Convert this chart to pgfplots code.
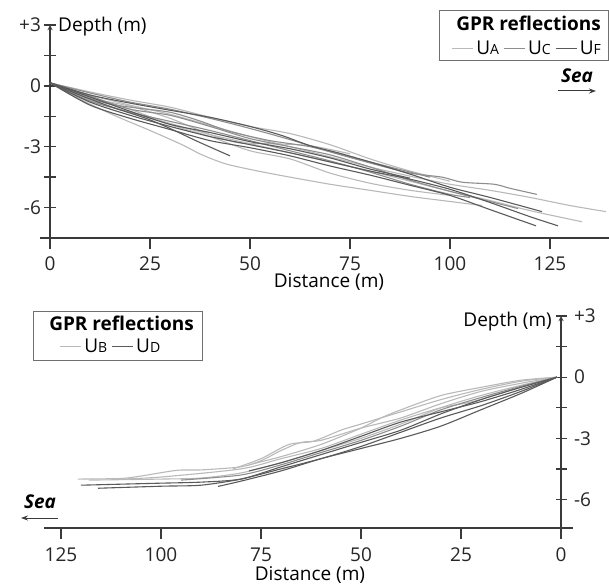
\documentclass[border=0pt]{standalone}
\usepackage{pgfplots}
\pgfplotsset{compat=1.18}
\usepackage{fontspec}
\setmainfont{Open Sans}
\usetikzlibrary{arrows.meta}

\definecolor{ua}{HTML}{B9B9B9}
\definecolor{uc}{HTML}{8E8E8E}
\definecolor{uf}{HTML}{5A5A5A}
\definecolor{axc}{HTML}{3A3A3A}
\definecolor{legc}{HTML}{707070}

\newcommand\samp[1]{\textcolor{#1}{\rule[0.3em]{1.1em}{0.9pt}}\,}
\newcommand\sub[1]{{\fontsize{14}{14}\selectfont #1}}
\newcommand\lab{\fontsize{19}{19}\selectfont}

\pgfplotsset{
  panel/.style={
    scale only axis, clip=false,
    axis x line=bottom,
    axis line style={-, line width=1.3pt, draw=axc},
    tick style={line width=1.3pt, draw=axc},
    major tick length=11pt, tick align=outside,
    ticklabel style={font=\lab, text=black!85},
    /pgf/number format/assume math mode=true,
    xtick={0,25,...,125},
    ytick={-6,-4.5,-3,-1.5,0,1.5,3},
    yticklabels={-6,,-3,,0,,+3},
  },
  lnA/.style={color=ua, line width=1.1pt, smooth, tension=0.45, mark=none},
  lnC/.style={color=uc, line width=1.1pt, smooth, tension=0.45, mark=none},
  lnF/.style={color=uf, line width=1.1pt, smooth, tension=0.45, mark=none},
}

\begin{document}
\begin{tikzpicture}
\path[use as bounding box] (0,0) rectangle (609pt,586pt);

% ---- upper panel: U_A, U_C, U_F
\begin{axis}[panel, at={(50pt,348pt)}, anchor=south west,
    width=559pt, height=213pt,
    axis y line=left,
    xticklabel style={yshift=-4pt},
    xmin=0, xmax=139.75, ymin=-7.5, ymax=3]
  \addplot[lnA] coordinates {(0,0.15)(8,-0.7)(16,-1.45)(25,-2.2)(33,-2.9)(38,-3.4)(44,-3.85)(52,-4.2)(60,-4.5)(70,-4.85)(80,-5.15)(90,-5.45)(100,-5.7)(108,-5.9)};
  \addplot[lnA] coordinates {(0,0.15)(10,-0.45)(20,-0.95)(30,-1.4)(40,-1.95)(50,-2.5)(60,-3.0)(70,-3.5)(80,-4.0)(90,-4.45)(100,-4.85)(110,-5.15)(120,-5.5)(130,-5.9)(139,-6.2)};
  \addplot[lnA] coordinates {(0,0.15)(10,-0.7)(20,-1.3)(30,-1.85)(40,-2.4)(50,-2.85)(60,-3.3)(70,-3.75)(80,-4.2)(90,-4.7)(100,-5.2)(110,-5.65)(120,-6.15)(133,-6.7)};
  \addplot[lnA] coordinates {(0,0.15)(10,-0.3)(20,-0.7)(30,-1.05)(40,-1.55)(50,-2.0)(60,-2.35)(70,-2.9)(80,-3.6)(90,-4.2)(100,-4.7)};
  \addplot[lnA] coordinates {(0,0.15)(10,-0.6)(20,-1.0)(30,-1.6)(40,-2.4)(47,-2.8)(55,-2.85)(65,-2.95)(75,-3.35)};
  \addplot[lnA] coordinates {(0,0.15)(10,-0.55)(20,-1.15)(30,-1.9)(40,-2.5)(50,-3.2)(60,-3.6)(70,-4.3)(80,-4.8)(90,-5.15)(100,-5.4)};
  \addplot[lnC] coordinates {(0,0.15)(10,-0.35)(20,-0.8)(30,-1.15)(40,-1.6)(50,-2.1)(60,-2.65)(70,-3.25)(80,-3.8)(90,-4.3)(98,-4.5)(103,-4.75)(111,-4.85)(115,-5.05)(121.7,-5.35)};
  \addplot[lnC] coordinates {(0,0.15)(10,-0.5)(20,-1.15)(30,-1.45)(40,-2.0)(50,-2.6)(60,-3.0)(70,-3.4)(80,-4.0)(90,-4.65)(100,-5.2)(110,-5.7)(117,-6.05)};
  \addplot[lnC] coordinates {(0,0.15)(8,-0.5)(15,-0.9)(22,-1.1)(30,-1.3)(37,-1.7)(45,-2.25)(55,-2.7)(65,-3.0)(75,-3.5)(85,-4.0)(95,-4.5)};
  \addplot[lnC] coordinates {(0,0.15)(10,-0.75)(20,-1.3)(30,-1.75)(40,-2.2)(50,-2.7)(60,-3.2)(70,-3.7)(80,-4.25)(90,-4.85)(100,-5.35)(105,-5.5)};
  \addplot[lnF] coordinates {(0,0.15)(10,-0.45)(20,-0.85)(27,-1.1)(40,-1.55)(50,-2.0)(58,-2.45)(65,-2.95)(72,-3.3)(80,-3.75)(90,-4.35)(100,-5.0)(110,-5.5)(123,-6.2)};
  \addplot[lnF] coordinates {(0,0.15)(10,-0.8)(20,-1.45)(30,-2.0)(40,-2.5)(50,-2.9)(60,-3.3)(70,-3.75)(80,-4.2)(90,-4.6)(100,-5.1)(110,-5.75)(120,-6.45)(127,-6.9)};
  \addplot[lnF] coordinates {(0,0.15)(10,-0.95)(20,-1.6)(30,-2.15)(40,-2.7)(50,-3.05)(60,-3.45)(70,-3.95)(80,-4.4)(90,-4.9)(100,-5.4)(110,-6.1)(121.5,-6.9)};
  \addplot[lnF] coordinates {(0,0.15)(10,-0.65)(17,-1.15)(24,-1.6)(30,-2.1)(37,-2.75)(45,-3.45)};
  \addplot[lnF] coordinates {(0,0.15)(10,-0.55)(20,-1.25)(30,-1.9)(40,-2.3)(50,-2.75)(60,-3.1)(70,-3.55)(80,-4.1)(90,-4.55)};
  \draw[line width=1.3pt, draw=axc] (axis cs:-2.5,-7.5) -- (axis cs:0,-7.5);
\end{axis}

% ---- lower panel: U_B, U_D (distance runs right to left)
\begin{axis}[panel, at={(44pt,58pt)}, anchor=south west,
    width=517pt, height=212pt,
    axis y line=right, x dir=reverse,
    xticklabel style={yshift=-5pt},
    yticklabel style={xshift=4pt},
    xmin=0, xmax=129.25, ymin=-7.4, ymax=3]
  \addplot[lnA] coordinates {(1,0)(10,-0.3)(20,-0.7)(30,-1.3)(40,-2.0)(50,-2.5)(60,-3.1)(65,-3.2)(70,-3.6)(75,-4.1)(80,-4.4)(90,-4.55)(96,-4.57)(105,-4.85)(110,-4.97)(120.75,-5.0)};
  \addplot[lnA] coordinates {(1,0)(10,-0.4)(20,-0.9)(30,-1.5)(40,-2.3)(50,-3.0)(60,-3.6)(70,-4.2)(80,-4.7)(90,-4.95)(100,-5.0)(118,-5.05)};
  \addplot[lnA] coordinates {(1,0)(10,-0.2)(20,-0.6)(30,-1.1)(40,-1.7)(50,-2.3)(55,-2.6)(62,-3.15)(68,-3.3)(75,-4.0)(82,-4.5)};
  \addplot[lnA] coordinates {(1,0)(10,-0.15)(20,-0.5)(30,-0.9)(40,-1.6)(45,-2.0)(50,-2.5)(60,-3.3)(70,-3.9)(78,-4.3)};
  \addplot[lnA] coordinates {(1,0)(12,-0.6)(22,-1.2)(30,-1.5)(40,-2.1)(50,-2.8)(60,-3.5)(70,-4.0)(80,-4.5)(100,-4.9)(110,-5.0)};
  \addplot[lnC] coordinates {(1,0)(10,-0.45)(20,-1.0)(30,-1.6)(40,-2.4)(50,-3.1)(60,-3.7)(70,-4.3)(80,-4.8)(95,-5.05)};
  \addplot[lnF] coordinates {(1,0)(10,-0.5)(20,-1.1)(30,-1.8)(40,-2.6)(50,-3.2)(60,-3.8)(70,-4.4)(80,-5.0)(90,-5.15)(100,-5.2)(110,-5.25)(120,-5.3)};
  \addplot[lnF] coordinates {(1,0)(10,-0.7)(20,-1.4)(30,-2.0)(40,-2.7)(50,-3.4)(60,-4.0)(70,-4.5)(80,-5.0)(90,-5.3)(100,-5.35)(115.75,-5.45)};
  \addplot[lnF] coordinates {(1,0)(10,-0.8)(20,-1.6)(30,-2.4)(40,-3.0)(50,-3.5)(60,-4.0)(70,-4.6)(80,-5.1)(85.75,-5.36)};
  \addplot[lnF] coordinates {(1,0)(10,-0.6)(20,-1.2)(30,-1.7)(40,-2.2)(50,-2.9)(60,-3.6)(70,-4.2)(78,-4.6)};
  \draw[line width=1.3pt, draw=axc] (axis cs:-3,-7.4) -- (axis cs:0,-7.4);
\end{axis}

% ---- texts of the upper panel
\node[anchor=base west, font=\lab, inner sep=0pt] at (58pt,554pt) {Depth (m)};
\node[anchor=base, font=\lab, inner sep=0pt] at (329pt,298pt) {Distance (m)};
\draw[draw=legc, line width=0.8pt] (439pt,526pt) rectangle (608pt,576pt);
\node[anchor=base east, font=\lab\bfseries, inner sep=0pt] at (601pt,555pt) {GPR reflections};
\node[anchor=base east, font=\lab, inner sep=0pt] at (601pt,531pt) {\samp{ua}U\sub{A} \samp{uc}U\sub{C} \samp{uf}U\sub{F}};
\node[anchor=base, font=\lab\bfseries\itshape, inner sep=0pt] at (577pt,503pt) {Sea};
\draw[-{Stealth[length=7pt,width=5pt]}, line width=1pt, draw=axc] (558pt,495pt) -- (596pt,495pt);

% ---- texts of the lower panel
\node[anchor=base east, font=\lab, inner sep=0pt] at (552pt,259pt) {Depth (m)};
\node[anchor=base, font=\lab, inner sep=0pt] at (310pt,5.5pt) {Distance (m)};
\draw[draw=legc, line width=0.8pt] (33pt,226pt) rectangle (202pt,275pt);
\node[anchor=base east, font=\lab\bfseries, inner sep=0pt] at (194pt,255pt) {GPR reflections};
\node[anchor=base west, font=\lab, inner sep=0pt] at (60pt,233pt) {\samp{ua}U\sub{B} \samp{uf}U\sub{D}};
\node[anchor=base, font=\lab\bfseries\itshape, inner sep=0pt] at (40pt,78pt) {Sea};
\draw[-{Stealth[length=7pt,width=5pt]}, line width=1pt, draw=axc] (58pt,68pt) -- (21pt,68pt);
\end{tikzpicture}
\end{document}
